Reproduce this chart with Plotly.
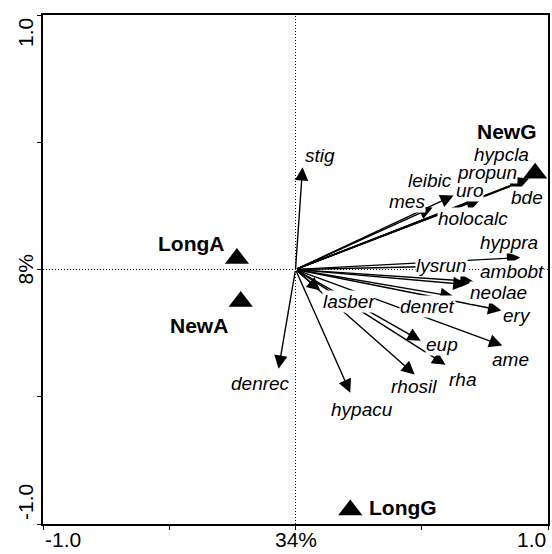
import plotly.graph_objects as go

# ---------------- data ----------------
species = ["stig", "mes", "leibic", "holocalc", "uro", "propun", "hypcla", "bde",
           "hyppra", "lysrun", "ambobt", "neolae", "denret", "ery", "ame", "eup",
           "rha", "rhosil", "hypacu", "denrec", "lasber"]
species_ax1 = [0.028, 0.543, 0.626, 0.728, 0.740, 0.902, 0.925, 0.913,
               0.890, 0.559, 0.705, 0.677, 0.626, 0.815, 0.819, 0.496,
               0.594, 0.472, 0.217, -0.067, 0.098]
species_ax2 = [0.402, 0.244, 0.291, 0.276, 0.283, 0.346, 0.358, 0.354,
               0.047, 0.012, -0.047, -0.059, -0.106, -0.161, -0.299, -0.280,
               -0.374, -0.413, -0.484, -0.390, -0.083]

samples = ["LongA", "NewA", "NewG", "LongG"]
sample_ax1 = [-0.232, -0.217, 0.949, 0.217]
sample_ax2 = [0.043, -0.126, 0.378, -0.945]

x_tick_vals = [-1.0, 0.0, 1.0]
x_tick_labels = ["-1.0", "34%", "1.0"]
y_tick_vals = [-1.0, 0.0, 1.0]
y_tick_labels = ["-1.0", "8%", "1.0"]

# ---------------- label placement (pixel offsets from arrow tip / point) ----------------
species_offsets = {
    "stig": (17, 12), "leibic": (-24, 15), "mes": (-26, 6), "uro": (-13, 7),
    "propun": (-36, 9), "hypcla": (-28, 24), "bde": (1, -18), "holocalc": (-6, -19),
    "hyppra": (-11, 15), "lysrun": (5, 1), "ambobt": (38, 10), "neolae": (32, -8),
    "ery": (16, -5), "denret": (-26, -10), "lasber": (29, -11), "eup": (21, -4),
    "ame": (8, -14), "rha": (17, -15), "rhosil": (-1, -12), "hypacu": (12, -17),
    "denrec": (-18, -15),
}
sample_offsets = {"LongA": (-46, 15), "NewA": (-42, -24), "NewG": (-28, 42), "LongG": (53, 3)}

FONT = "Liberation Sans, Arial, sans-serif"

fig = go.Figure()

fig.add_trace(go.Scatter(
    x=sample_ax1, y=sample_ax2, mode="markers",
    marker=dict(symbol="triangle-up", size=21, color="black", line=dict(width=0)),
    hoverinfo="skip", showlegend=False,
))

annotations = []
# arrows
for name, x, y in zip(species, species_ax1, species_ax2):
    annotations.append(dict(
        x=x, y=y, ax=0, ay=0, xref="x", yref="y", axref="x", ayref="y",
        text="", showarrow=True, arrowhead=2, arrowsize=1.9, arrowwidth=1.4,
        arrowcolor="black", standoff=0, startstandoff=0,
    ))
# species labels (white background masks lines behind them)
for name, x, y in zip(species, species_ax1, species_ax2):
    dx, dy = species_offsets[name]
    annotations.append(dict(
        x=x, y=y, xref="x", yref="y", text="<i>" + name + "</i>", showarrow=False,
        xshift=dx, yshift=dy, xanchor="center", yanchor="middle",
        font=dict(family=FONT, size=19, color="black"),
        bgcolor="white", borderpad=0,
    ))
# sample labels
for name, x, y in zip(samples, sample_ax1, sample_ax2):
    dx, dy = sample_offsets[name]
    annotations.append(dict(
        x=x, y=y, xref="x", yref="y", text="<b>" + name + "</b>", showarrow=False,
        xshift=dx, yshift=dy, xanchor="center", yanchor="middle",
        font=dict(family=FONT, size=21, color="black"),
    ))
# x tick labels
x_anchors = ["left", "center", "right"]
for v, t, a in zip(x_tick_vals, x_tick_labels, x_anchors):
    annotations.append(dict(
        x=v, y=0, xref="x", yref="paper", text=t, showarrow=False,
        xanchor=a, yanchor="top", yshift=-2,
        font=dict(family=FONT, size=21, color="black"),
    ))
# y tick labels (rotated)
y_shifts = [22, 0, -18]
for v, t, s in zip(y_tick_vals, y_tick_labels, y_shifts):
    annotations.append(dict(
        x=0, y=v, xref="paper", yref="y", text=t, showarrow=False, textangle=-90,
        xanchor="center", yanchor="middle", xshift=-18, yshift=s,
        font=dict(family=FONT, size=21, color="black"),
    ))

shapes = [
    dict(type="line", xref="x", yref="y", x0=-1, x1=1, y0=0, y1=0,
         line=dict(color="black", width=1, dash="1px,2px"), layer="below"),
    dict(type="line", xref="x", yref="y", x0=0, x1=0, y0=-1, y1=1,
         line=dict(color="black", width=1, dash="1px,2px"), layer="below"),
]

axis_common = dict(
    range=[-1, 1], showgrid=False, zeroline=False, showline=True, mirror=True,
    linecolor="black", linewidth=1.5, ticks="outside", ticklen=4, tickwidth=1.2,
    tickcolor="black", tickvals=[-1, -0.5, 0, 0.5, 1], showticklabels=False,
)

fig.update_layout(
    width=552, height=554,
    margin=dict(l=43, r=2, t=15, b=30),
    paper_bgcolor="white", plot_bgcolor="white",
    xaxis=dict(**axis_common),
    yaxis=dict(**axis_common),
    annotations=annotations, shapes=shapes,
    showlegend=False,
)

fig.write_html("out.html")
